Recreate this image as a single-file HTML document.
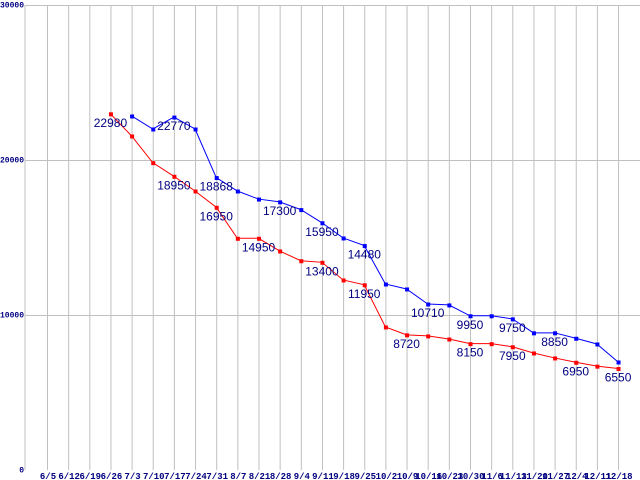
<!DOCTYPE html>
<html><head><meta charset="utf-8"><style>
body{margin:0;background:#fff;}
svg{display:block;}
</style></head><body>
<svg id="chart" width="640" height="480" xmlns="http://www.w3.org/2000/svg"></svg>
<script>
const categories=["6/5","6/12","6/19","6/26","7/3","7/10","7/17","7/24","7/31","8/7","8/21","8/28","9/4","9/11","9/18","9/25","10/2","10/9","10/16","10/23","10/30","11/6","11/13","11/20","11/27","12/4","12/11","12/18"];
const redValues=[null,null,null,22980,21550,19830,18950,18000,16950,14950,14950,14130,13500,13400,12260,11950,9230,8720,8650,8450,8150,8150,7950,7550,7230,6950,6700,6550];
const blueValues=[null,null,null,null,22840,22000,22770,22000,18868,18000,17480,17300,16800,15950,14970,14480,12000,11680,10710,10650,9950,9950,9750,8850,8850,8500,8130,6970];
const redLabels=[null,null,null,"22980",null,null,"18950",null,"16950",null,"14950",null,null,"13400",null,"11950",null,"8720",null,null,"8150",null,"7950",null,null,"6950",null,"6550"];
const blueLabels=[null,null,null,null,null,null,"22770",null,"18868",null,null,"17300",null,"15950",null,"14480",null,null,"10710",null,"9950",null,"9750",null,"8850",null,null,null];
const yTicks=[0,10000,20000,30000];

const svg=document.getElementById('chart');
const NS='http://www.w3.org/2000/svg';
const X0=25,X1=47,DX=21.15,Y0=470,YT=5,YMAX=30000;
const xs=i=>X1+DX*i;
const ys=v=>Y0-(v/YMAX)*(Y0-YT);
function mk(t,a,p){const e=document.createElementNS(NS,t);for(const k in a)e.setAttribute(k,a[k]);(p||svg).appendChild(e);return e;}

const grid=mk('g',{});


mk('line',{x1:X0,y1:YT,x2:X0,y2:Y0,stroke:'#c0c0c0','stroke-width':1},grid);
categories.forEach((c,i)=>{mk('line',{x1:xs(i)+0.5,y1:YT,x2:xs(i)+0.5,y2:Y0,stroke:'#c0c0c0','stroke-width':1},grid);});
yTicks.forEach(v=>{
  if(v>0) mk('line',{x1:X0,y1:Math.round(ys(v))+0.5,x2:640,y2:Math.round(ys(v))+0.5,stroke:'#c0c0c0','stroke-width':1},grid);
  const s=String(v);
  const w=s.length*4.8;
  const t=mk('text',{x:24-w,y:ys(v)+2.5,'font-family':'Liberation Mono, monospace','font-size':8,'font-weight':'bold',fill:'#000080',textLength:w,lengthAdjust:'spacingAndGlyphs'});
  
  
  t.textContent=s;
});
categories.forEach((c,i)=>{
  const t=mk('text',{x:xs(i)+1,y:479,'text-anchor':'middle','font-family':'Liberation Mono, monospace','font-size':9,'font-weight':'bold',fill:'#000080'});
  
  
  t.textContent=c;
});
function series(vals,labels,color,name){
  const g=mk('g',{});
  
  
  let pts=[];
  vals.forEach((v,i)=>{if(v!=null)pts.push(xs(i)+','+ys(v));});
  mk('polyline',{points:pts.join(' '),fill:'none',stroke:color,'stroke-width':1},g);
  vals.forEach((v,i)=>{if(v==null)return;
    const r=mk('rect',{x:xs(i)-1.5,y:ys(v)-1.5,width:4,height:4,fill:color},g);
    
    
    if(labels[i]){
      const t=mk('text',{x:xs(i),y:ys(v)+13,'text-anchor':'middle','font-family':'Liberation Sans, sans-serif','font-size':12,fill:'#000080'},g);
      
      
      t.textContent=labels[i];
    }
  });
}
series(blueValues,blueLabels,'#0000ff','blue-series');
series(redValues,redLabels,'#ff0000','red-series');
</script>
</body></html>
